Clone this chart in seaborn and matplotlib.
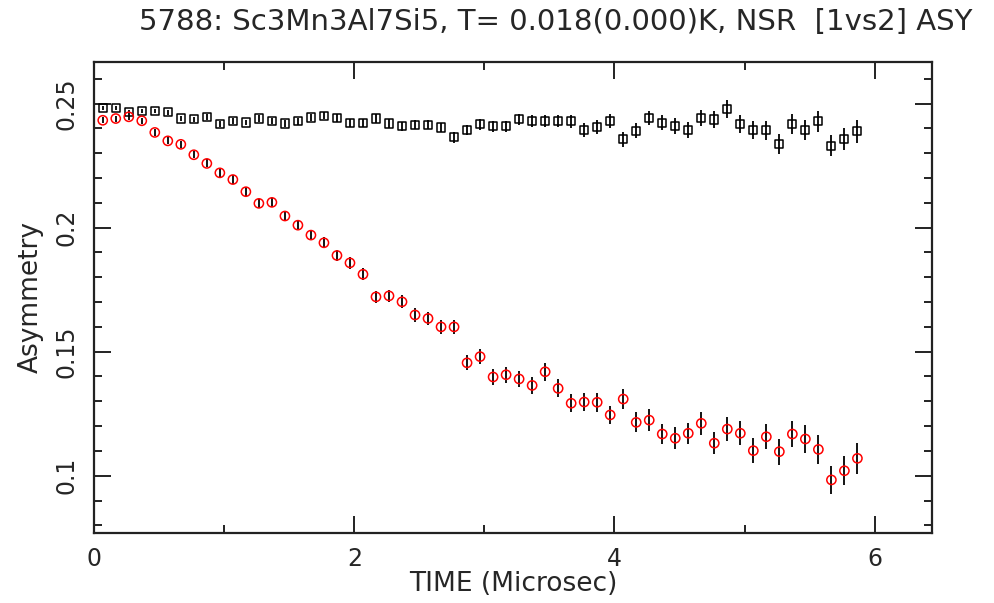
import numpy as np
import pandas as pd
import matplotlib
matplotlib.use("Agg")
import matplotlib.pyplot as plt
import seaborn as sns
from matplotlib.ticker import MultipleLocator, FuncFormatter

# Time bins (microseconds)
time_us = [0.067 + 0.1 * i for i in range(59)]

# Upper series (open black squares)
asy_upper = [
    0.2483, 0.2483, 0.2467, 0.2471, 0.2471, 0.2466, 0.2440, 0.2437, 0.2447, 0.2417,
    0.2429, 0.2424, 0.2440, 0.2429, 0.2420, 0.2429, 0.2444, 0.2452, 0.2443, 0.2423,
    0.2423, 0.2440, 0.2420, 0.2409, 0.2415, 0.2415, 0.2404, 0.2364, 0.2393, 0.2417,
    0.2409, 0.2409, 0.2437, 0.2429, 0.2429, 0.2430, 0.2429, 0.2393, 0.2406, 0.2429,
    0.2356, 0.2390, 0.2442, 0.2423, 0.2409, 0.2393, 0.2442, 0.2436, 0.2478, 0.2417,
    0.2393, 0.2393, 0.2337, 0.2417, 0.2393, 0.2429, 0.2330, 0.2357, 0.2389,
]
err_upper = [
    0.0008, 0.0008, 0.0009, 0.0009, 0.0009, 0.0010, 0.0010, 0.0011, 0.0011, 0.0012,
    0.0012, 0.0012, 0.0013, 0.0013, 0.0014, 0.0014, 0.0015, 0.0015, 0.0016, 0.0016,
    0.0017, 0.0017, 0.0018, 0.0018, 0.0019, 0.0019, 0.0020, 0.0021, 0.0021, 0.0022,
    0.0022, 0.0023, 0.0023, 0.0024, 0.0025, 0.0025, 0.0026, 0.0027, 0.0027, 0.0028,
    0.0029, 0.0030, 0.0030, 0.0031, 0.0032, 0.0033, 0.0033, 0.0034, 0.0035, 0.0036,
    0.0037, 0.0038, 0.0039, 0.0040, 0.0041, 0.0042, 0.0043, 0.0044, 0.0046,
]

# Lower series (open red circles)
asy_lower = [
    0.2433, 0.2440, 0.2447, 0.2431, 0.2384, 0.2350, 0.2336, 0.2294, 0.2259, 0.2221,
    0.2194, 0.2145, 0.2098, 0.2102, 0.2047, 0.2010, 0.1970, 0.1939, 0.1888, 0.1858,
    0.1812, 0.1721, 0.1725, 0.1701, 0.1648, 0.1634, 0.1600, 0.1600, 0.1455, 0.1480,
    0.1398, 0.1407, 0.1390, 0.1364, 0.1419, 0.1352, 0.1292, 0.1297, 0.1296, 0.1245,
    0.1309, 0.1215, 0.1224, 0.1168, 0.1151, 0.1171, 0.1211, 0.1131, 0.1188, 0.1171,
    0.1101, 0.1157, 0.1097, 0.1168, 0.1148, 0.1106, 0.0983, 0.1020, 0.1070,
]
err_lower = [
    0.0012, 0.0012, 0.0013, 0.0013, 0.0014, 0.0014, 0.0015, 0.0015, 0.0016, 0.0017,
    0.0017, 0.0018, 0.0018, 0.0019, 0.0020, 0.0020, 0.0021, 0.0022, 0.0022, 0.0023,
    0.0024, 0.0025, 0.0025, 0.0026, 0.0027, 0.0028, 0.0029, 0.0029, 0.0030, 0.0031,
    0.0032, 0.0033, 0.0034, 0.0035, 0.0036, 0.0036, 0.0037, 0.0037, 0.0038, 0.0035,
    0.0040, 0.0040, 0.0043, 0.0042, 0.0044, 0.0042, 0.0045, 0.0045, 0.0049, 0.0048,
    0.0049, 0.0050, 0.0052, 0.0052, 0.0055, 0.0058, 0.0058, 0.0058, 0.0062,
]

sns.set_style("ticks")
plt.rcParams["font.family"] = ["DejaVu Sans"]

fig = plt.figure(figsize=(9.94, 6.03), dpi=100)
ax = fig.add_axes([0.0946, 0.1161, 0.843, 0.7811])

df_u = pd.DataFrame({"t": time_us, "a": asy_upper, "e": err_upper})
df_l = pd.DataFrame({"t": time_us, "a": asy_lower, "e": err_lower})

for df in (df_u, df_l):
    ax.errorbar(df["t"], df["a"], yerr=df["e"], fmt="none", ecolor="black",
                elinewidth=1.3, capsize=0, zorder=2)

sns.scatterplot(data=df_u, x="t", y="a", ax=ax, marker="s", s=34,
                facecolor="none", edgecolor="black", linewidth=1.1, zorder=3)
sns.scatterplot(data=df_l, x="t", y="a", ax=ax, marker="o", s=44,
                facecolor="none", edgecolor="red", linewidth=1.1, zorder=3)

ax.set_xlim(0, 6.44)
ax.set_ylim(0.0769, 0.2668)

ax.xaxis.set_major_locator(MultipleLocator(2))
ax.xaxis.set_minor_locator(MultipleLocator(1))
ax.yaxis.set_major_locator(MultipleLocator(0.05))
ax.yaxis.set_minor_locator(MultipleLocator(0.01))
ax.yaxis.set_major_formatter(FuncFormatter(lambda v, p: f"{v:g}"))

ax.tick_params(which="both", direction="in", top=True, right=True,
               color="#222222", width=1.4)
ax.tick_params(which="major", length=12, labelsize=17)
ax.tick_params(axis="x", which="major", pad=10)
ax.tick_params(axis="y", which="major", pad=11)
ax.tick_params(which="minor", length=6)
for lab in ax.get_yticklabels():
    lab.set_rotation(90)
    lab.set_va("center")

for sp in ax.spines.values():
    sp.set_linewidth(1.6)
    sp.set_color("#222222")

ax.set_xlabel("TIME (Microsec)", fontsize=19, labelpad=0)
ax.set_ylabel("Asymmetry", fontsize=19, labelpad=8)
fig.text(0.978, 0.950, "5788: Sc3Mn3Al7Si5, T= 0.018(0.000)K, NSR  [1vs2] ASY",
         ha="right", va="baseline", fontsize=21)

fig.savefig("out.png", dpi=100)
